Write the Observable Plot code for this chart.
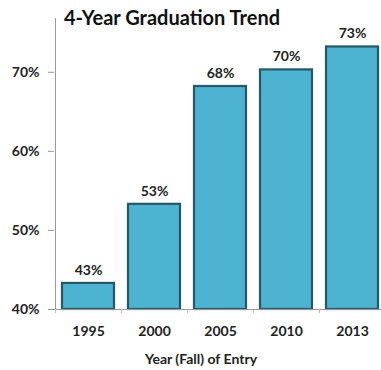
<!DOCTYPE html>
<html><head><meta charset="utf-8">
<script src="https://cdn.jsdelivr.net/npm/d3@7"></script>
<script src="https://cdn.jsdelivr.net/npm/@observablehq/plot@0.6"></script>
<style>
body{margin:0;background:#fff;}
#wrap{position:relative;width:381px;height:370px;}
#title{position:absolute;left:64px;top:5px;font-family:Lato,sans-serif;font-weight:bold;font-size:20px;color:#111;white-space:nowrap;}
</style>
</head><body>
<div id="wrap"><div id="title">4-Year Graduation Trend</div></div>
<script>
const years = ["1995","2000","2005","2010","2013"];
const rates = [43.3, 53.3, 68.2, 70.3, 73.2];
const labels = ["43%","53%","68%","70%","73%"];
const yTicks = [40, 50, 60, 70];

const data = years.map((y,i)=>({year:y, rate:rates[i], label:labels[i]}));
const font = "Lato, sans-serif";

const chart = Plot.plot({
  width: 381, height: 370,
  marginTop: 18, marginBottom: 61, marginLeft: 54, marginRight: 0,
  style: {fontFamily: font, fontWeight: "bold", fontSize: "14px", color: "#222", background: "transparent", overflow: "visible"},
  x: {domain: years, range: [54, 386], paddingInner: 0.21, paddingOuter: 0.1, label: null},
  y: {domain: [40, 76.8], label: null},
  marks: [
    Plot.barY(data, {x: "year", y1: 40, y2: "rate", fill: "#4db3d1", stroke: "#24596a", strokeWidth: 2.2}),
    Plot.barY(data, {x: "year", y1: "rate", y2: "rate", insetLeft: 4, insetRight: 4, stroke: "#9be2f2", strokeWidth: 2, dy: 3.5}),
    Plot.ruleY([40], {stroke: "#999", strokeWidth: 1}),
    Plot.ruleX(["1995"], {x: d => d, y1: 40, y2: 76.8, dx: -33, stroke: "#999"}),
    Plot.ruleX(years, {x: d => d, y1: 40, y2: 39.5, dx: -33, stroke: "#bbb"}),
    Plot.axisY({ticks: yTicks, tickFormat: d => d + "%", tickSize: 6, tickPadding: 9, stroke: "#999", fontWeight: "bold", fontSize: 14}),
    Plot.axisX({tickSize: 0, tickPadding: 17, fontWeight: "bold", fontSize: 14, label: null}),
    Plot.text(data, {x: "year", y: "rate", text: "label", dy: -13, fontWeight: "bold", fontSize: 14, fill: "#222"}),
    Plot.text(["Year (Fall) of Entry"], {frameAnchor: "bottom", dx: -17, dy: 54, fontWeight: "bold", fontSize: 14, fill: "#222"})
  ]
});
document.getElementById("wrap").prepend(chart);
chart.style.position = "absolute"; chart.style.left = "0"; chart.style.top = "0";
</script>
</body></html>
